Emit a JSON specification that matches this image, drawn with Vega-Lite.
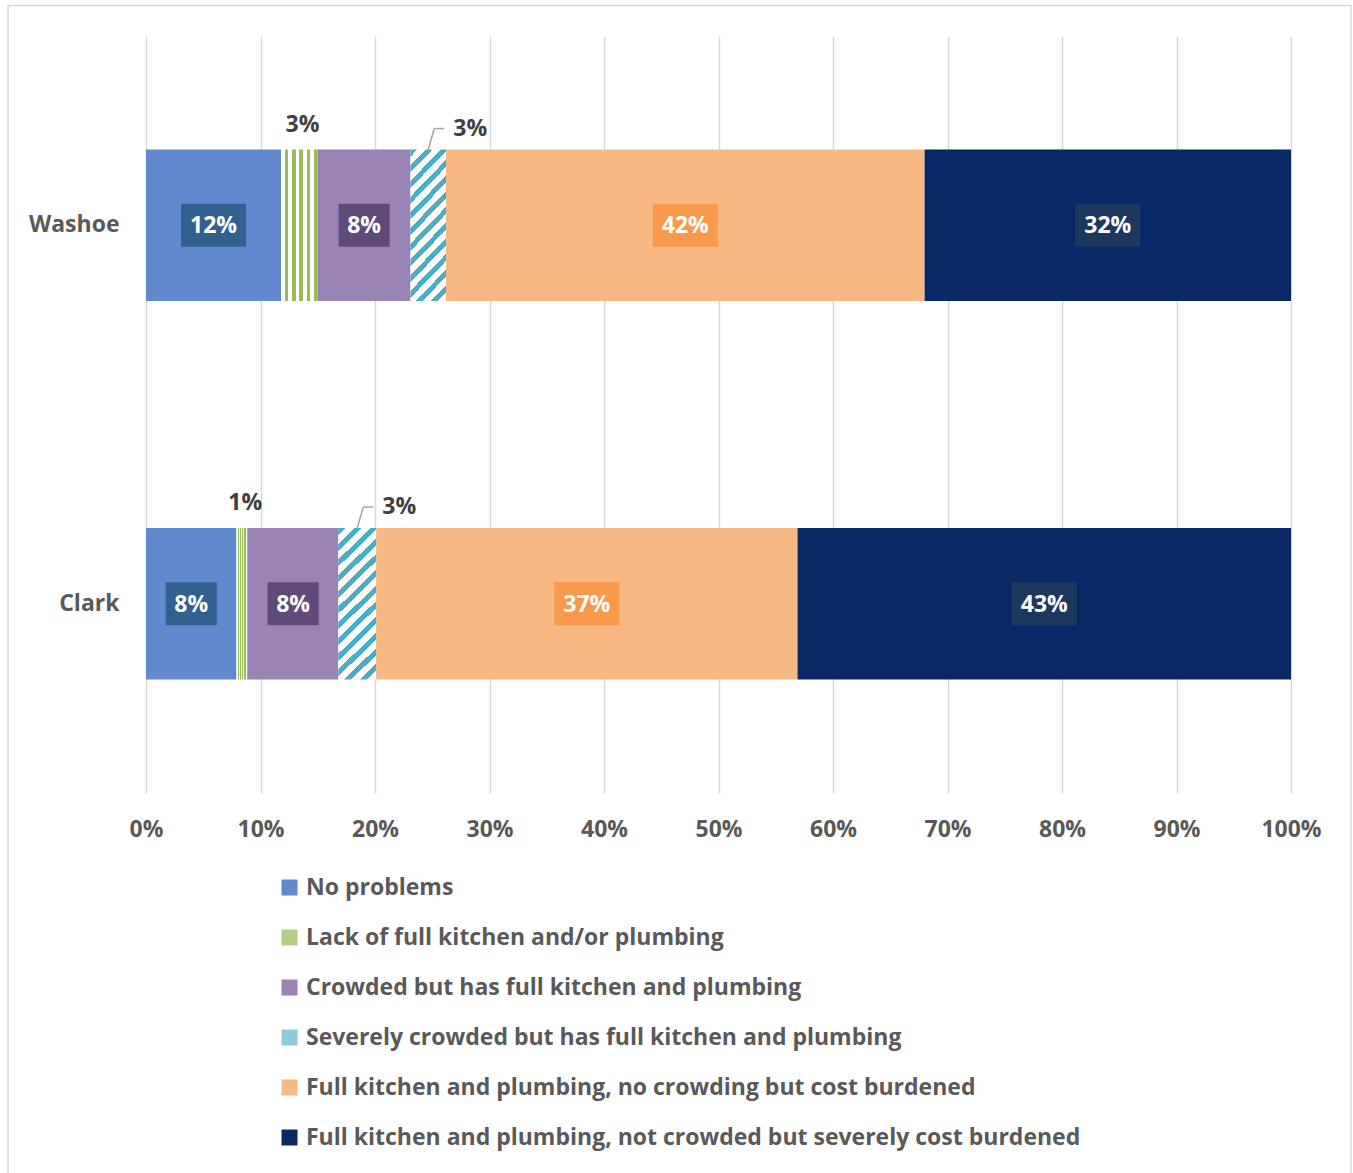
{
  "$schema": "https://vega.github.io/schema/vega-lite/v6.json",
  "width": 1145,
  "height": 757,
  "autosize": {"type": "none"},
  "padding": {"left": 146, "top": 36, "right": 62, "bottom": 380},
  "background": "white",
  "config": {"font": "Open Sans", "view": {"stroke": null}},
  "resolve": {"scale": {"y": "independent"}},
  "layer": [
    {
      "data": {
        "values": [
          {"county": "Washoe", "cat": "No problems", "ord": 1, "value": 0.118},
          {"county": "Washoe", "cat": "Lack of full kitchen and/or plumbing", "ord": 2, "value": 0.032},
          {"county": "Washoe", "cat": "Crowded but has full kitchen and plumbing", "ord": 3, "value": 0.081},
          {"county": "Washoe", "cat": "Severely crowded but has full kitchen and plumbing", "ord": 4, "value": 0.031},
          {"county": "Washoe", "cat": "Full kitchen and plumbing, no crowding but cost burdened", "ord": 5, "value": 0.418},
          {"county": "Washoe", "cat": "Full kitchen and plumbing, not crowded but severely cost burdened", "ord": 6, "value": 0.320},
          {"county": "Clark", "cat": "No problems", "ord": 1, "value": 0.079},
          {"county": "Clark", "cat": "Lack of full kitchen and/or plumbing", "ord": 2, "value": 0.010},
          {"county": "Clark", "cat": "Crowded but has full kitchen and plumbing", "ord": 3, "value": 0.079},
          {"county": "Clark", "cat": "Severely crowded but has full kitchen and plumbing", "ord": 4, "value": 0.033},
          {"county": "Clark", "cat": "Full kitchen and plumbing, no crowding but cost burdened", "ord": 5, "value": 0.368},
          {"county": "Clark", "cat": "Full kitchen and plumbing, not crowded but severely cost burdened", "ord": 6, "value": 0.431}
        ]
      },
      "transform": [
        {"stack": "value", "groupby": ["county"], "sort": [{"field": "ord", "order": "ascending"}], "as": ["x0", "x1"]},
        {"calculate": "(datum.x0 + datum.x1) / 2", "as": "mid"}
      ],
      "encoding": {
        "y": {
          "field": "county",
          "type": "nominal",
          "scale": {"domain": ["Washoe", "Clark"], "paddingInner": 0.6, "paddingOuter": 0.3},
          "axis": {
            "title": null,
            "ticks": false,
            "domain": false,
            "grid": false,
            "labelFont": "Open Sans",
            "labelFontSize": 23,
            "labelFontWeight": "bold",
            "labelColor": "#595959",
            "labelPadding": 27
          }
        }
      },
      "layer": [
        {
          "mark": {"type": "bar"},
          "encoding": {
            "x": {
              "field": "x0",
              "type": "quantitative",
              "scale": {"domain": [0, 1], "nice": false},
              "axis": {
                "title": null,
                "values": [0, 0.1, 0.2, 0.3, 0.4, 0.5, 0.6, 0.7, 0.8, 0.9, 1],
                "format": ".0%",
                "grid": true,
                "gridColor": "#d9d9d9",
                "gridWidth": 1.5,
                "ticks": false,
                "domain": false,
                "labelFlush": false,
                "labelFont": "Open Sans",
                "labelFontSize": 23,
                "labelFontWeight": "bold",
                "labelColor": "#595959",
                "labelPadding": 25
              }
            },
            "x2": {"field": "x1"},
            "fill": {
              "field": "cat",
              "type": "nominal",
              "scale": {
                "domain": [
                  "No problems",
                  "Lack of full kitchen and/or plumbing",
                  "Crowded but has full kitchen and plumbing",
                  "Severely crowded but has full kitchen and plumbing",
                  "Full kitchen and plumbing, no crowding but cost burdened",
                  "Full kitchen and plumbing, not crowded but severely cost burdened"
                ],
                "range": ["#6189cd", "#b5cc88", "#9a83b5", "#8fcadb", "#f8b883", "#0a2866"]
              },
              "legend": {
                "orient": "none",
                "legendX": 132,
                "legendY": 840,
                "title": null,
                "direction": "vertical",
                "symbolType": "square",
                "symbolSize": 256,
                "symbolStrokeWidth": 0,
                "labelFont": "Open Sans",
                "labelFontSize": 23,
                "labelFontWeight": "bold",
                "labelColor": "#595959",
                "labelOffset": 5,
                "labelLimit": 1200,
                "rowPadding": 26
              },
              "condition": [
                {
                  "test": "datum.cat === 'Lack of full kitchen and/or plumbing'",
                  "value": {
                    "gradient": "linear", "x1": 0, "y1": 0, "x2": 1, "y2": 0,
                    "stops": [
                      {"offset": 0, "color": "#ffffff"}, {"offset": 0.1, "color": "#ffffff"},
                      {"offset": 0.1, "color": "#9bbb59"}, {"offset": 0.2, "color": "#9bbb59"},
                      {"offset": 0.2, "color": "#ffffff"}, {"offset": 0.3, "color": "#ffffff"},
                      {"offset": 0.3, "color": "#9bbb59"}, {"offset": 0.4, "color": "#9bbb59"},
                      {"offset": 0.4, "color": "#ffffff"}, {"offset": 0.5, "color": "#ffffff"},
                      {"offset": 0.5, "color": "#9bbb59"}, {"offset": 0.6, "color": "#9bbb59"},
                      {"offset": 0.6, "color": "#ffffff"}, {"offset": 0.7, "color": "#ffffff"},
                      {"offset": 0.7, "color": "#9bbb59"}, {"offset": 0.8, "color": "#9bbb59"},
                      {"offset": 0.8, "color": "#ffffff"}, {"offset": 0.9, "color": "#ffffff"},
                      {"offset": 0.9, "color": "#9bbb59"}, {"offset": 1, "color": "#9bbb59"}
                    ]
                  }
                },
                {
                  "test": "datum.cat === 'Severely crowded but has full kitchen and plumbing'",
                  "value": {
                    "gradient": "linear", "x1": 0, "y1": 0, "x2": 0.286, "y2": 1.174,
                    "stops": [
                      {"offset": 0, "color": "#4bacc6"}, {"offset": 0.0375, "color": "#4bacc6"},
                      {"offset": 0.0375, "color": "#ffffff"}, {"offset": 0.0833, "color": "#ffffff"},
                      {"offset": 0.0833, "color": "#4bacc6"}, {"offset": 0.1208, "color": "#4bacc6"},
                      {"offset": 0.1208, "color": "#ffffff"}, {"offset": 0.1667, "color": "#ffffff"},
                      {"offset": 0.1667, "color": "#4bacc6"}, {"offset": 0.2042, "color": "#4bacc6"},
                      {"offset": 0.2042, "color": "#ffffff"}, {"offset": 0.25, "color": "#ffffff"},
                      {"offset": 0.25, "color": "#4bacc6"}, {"offset": 0.2875, "color": "#4bacc6"},
                      {"offset": 0.2875, "color": "#ffffff"}, {"offset": 0.3333, "color": "#ffffff"},
                      {"offset": 0.3333, "color": "#4bacc6"}, {"offset": 0.3708, "color": "#4bacc6"},
                      {"offset": 0.3708, "color": "#ffffff"}, {"offset": 0.4167, "color": "#ffffff"},
                      {"offset": 0.4167, "color": "#4bacc6"}, {"offset": 0.4542, "color": "#4bacc6"},
                      {"offset": 0.4542, "color": "#ffffff"}, {"offset": 0.5, "color": "#ffffff"},
                      {"offset": 0.5, "color": "#4bacc6"}, {"offset": 0.5375, "color": "#4bacc6"},
                      {"offset": 0.5375, "color": "#ffffff"}, {"offset": 0.5833, "color": "#ffffff"},
                      {"offset": 0.5833, "color": "#4bacc6"}, {"offset": 0.6208, "color": "#4bacc6"},
                      {"offset": 0.6208, "color": "#ffffff"}, {"offset": 0.6667, "color": "#ffffff"},
                      {"offset": 0.6667, "color": "#4bacc6"}, {"offset": 0.7042, "color": "#4bacc6"},
                      {"offset": 0.7042, "color": "#ffffff"}, {"offset": 0.75, "color": "#ffffff"},
                      {"offset": 0.75, "color": "#4bacc6"}, {"offset": 0.7875, "color": "#4bacc6"},
                      {"offset": 0.7875, "color": "#ffffff"}, {"offset": 0.8333, "color": "#ffffff"},
                      {"offset": 0.8333, "color": "#4bacc6"}, {"offset": 0.8708, "color": "#4bacc6"},
                      {"offset": 0.8708, "color": "#ffffff"}, {"offset": 0.9167, "color": "#ffffff"},
                      {"offset": 0.9167, "color": "#4bacc6"}, {"offset": 0.9542, "color": "#4bacc6"},
                      {"offset": 0.9542, "color": "#ffffff"}, {"offset": 1, "color": "#ffffff"}
                    ]
                  }
                }
              ]
            }
          }
        },
        {
          "transform": [{"filter": "datum.value > 0.05"}],
          "mark": {"type": "point", "filled": true, "opacity": 1, "size": 1849, "strokeWidth": 0},
          "encoding": {
            "x": {"field": "mid", "type": "quantitative"},
            "shape": {
              "condition": {"test": "datum.value >= 0.095", "value": "M-1.512,-1H1.512V1H-1.512Z"},
              "value": "M-1.186,-1H1.186V1H-1.186Z"
            },
            "fill": {
              "condition": [
                {"test": "datum.cat === 'No problems'", "value": "#32608f"},
                {"test": "datum.cat === 'Crowded but has full kitchen and plumbing'", "value": "#5f4a7a"},
                {"test": "datum.cat === 'Full kitchen and plumbing, no crowding but cost burdened'", "value": "#f8994b"}
              ],
              "value": "#1d375f"
            }
          }
        },
        {
          "transform": [{"filter": "datum.value > 0.05"}],
          "mark": {"type": "text", "color": "#ffffff", "font": "Open Sans", "fontSize": 23, "fontWeight": "bold", "align": "center", "baseline": "middle", "dy": 1},
          "encoding": {
            "x": {"field": "mid", "type": "quantitative"},
            "text": {"field": "value", "type": "quantitative", "format": ".0%"}
          }
        },
        {
          "transform": [{"filter": "datum.cat === 'Lack of full kitchen and/or plumbing'"}],
          "mark": {"type": "text", "color": "#404040", "font": "Open Sans", "fontSize": 23, "fontWeight": "bold", "align": "center", "baseline": "middle", "dx": 3, "dy": -25},
          "encoding": {
            "x": {"field": "mid", "type": "quantitative"},
            "y": {"field": "county", "type": "nominal", "bandPosition": 0},
            "text": {"field": "value", "type": "quantitative", "format": ".0%"}
          }
        },
        {
          "transform": [{"filter": "datum.cat === 'Severely crowded but has full kitchen and plumbing'"}],
          "mark": {"type": "text", "color": "#404040", "font": "Open Sans", "fontSize": 23, "fontWeight": "bold", "align": "center", "baseline": "middle", "dx": 42, "dy": -21},
          "encoding": {
            "x": {"field": "mid", "type": "quantitative"},
            "y": {"field": "county", "type": "nominal", "bandPosition": 0},
            "text": {"field": "value", "type": "quantitative", "format": ".0%"}
          }
        },
        {
          "transform": [{"filter": "datum.cat === 'Severely crowded but has full kitchen and plumbing'"}],
          "mark": {"type": "rule", "color": "#a6a6a6", "strokeWidth": 1.5, "x2Offset": 6, "y2Offset": -96.7},
          "encoding": {
            "x": {"field": "mid", "type": "quantitative"},
            "x2": {"field": "mid"},
            "y": {"field": "county", "type": "nominal", "bandPosition": 0},
            "y2": {"field": "county"}
          }
        },
        {
          "transform": [{"filter": "datum.cat === 'Severely crowded but has full kitchen and plumbing'"}],
          "mark": {"type": "rule", "color": "#a6a6a6", "strokeWidth": 1.5, "xOffset": 6, "x2Offset": 16, "yOffset": -21},
          "encoding": {
            "x": {"field": "mid", "type": "quantitative"},
            "x2": {"field": "mid"},
            "y": {"field": "county", "type": "nominal", "bandPosition": 0}
          }
        }
      ]
    },
    {
      "data": {"values": [{"frame": "border"}]},
      "mark": {"type": "rect", "fill": null, "stroke": "#d9d9d9", "strokeWidth": 1.5, "clip": false},
      "encoding": {
        "x": {"datum": -0.1205, "type": "quantitative"},
        "x2": {"datum": 1.0524},
        "y": {"datum": 1.0403, "type": "quantitative", "scale": {"domain": [0, 1], "nice": false}, "axis": null},
        "y2": {"datum": -0.6}
      }
    }
  ]
}
